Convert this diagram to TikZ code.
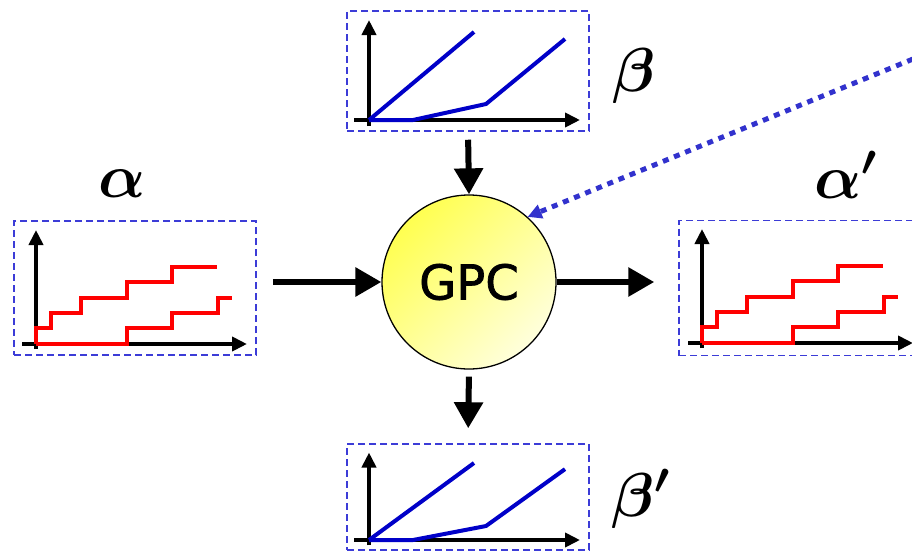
\RequirePackage{fix-cm}
\documentclass[tikz,border=0pt]{standalone}
\usepackage{fontspec}
\usepackage{tikz}
\usetikzlibrary{arrows.meta, positioning, calc}
\newfontfamily\gpcfont[FakeBold=1.5]{DejaVu Sans}
\definecolor{boxblue}{RGB}{60, 60, 215}
\definecolor{dotblue}{RGB}{50, 50, 205}
\definecolor{curveblue}{RGB}{0, 0, 200}
\definecolor{gpcyellow}{RGB}{255, 255, 80}
\definecolor{gpcpale}{RGB}{255, 255, 220}

\tikzset{
  plotbox/.style={draw=boxblue, line width=1.5pt, dash pattern=on 7pt off 4pt, inner sep=0pt},
  axisarrow/.style={line width=4pt, -{Triangle[length=15pt,width=14pt]}},
  redstairs/.style={red, line width=4pt},
  bluecurve/.style={curveblue, line width=4pt},
  flowarrow/.style={line width=6pt, -{Triangle[length=26pt,width=28pt]}},
  feedback/.style={dotblue, line width=5pt, dash pattern=on 6pt off 6pt, -{Triangle[length=14pt,width=14pt]}},
  lbl/.style={font=\fontsize{62}{62}\selectfont\boldmath, inner sep=0pt, anchor=base west},
}

\begin{document}
\begin{tikzpicture}[x=1pt, y=-1pt, >=Stealth]
  \useasboundingbox (0,0) rectangle (912,554);
  \clip (0,0) rectangle (912,554);

  % dashed frames
  \node[plotbox, minimum width=242pt, minimum height=134pt] (alphaBox) at (135,288) {};
  \node[plotbox, minimum width=242pt, minimum height=120pt] (betaBox) at (468,71) {};
  \node[plotbox, minimum width=242pt, minimum height=135pt] (alphaOutBox) at (800,288) {};
  \node[plotbox, minimum width=242pt, minimum height=106pt] (betaOutBox) at (468,497) {};

  % arrival curves alpha
  \begin{scope}[shift={(36,344)}]
    \draw[axisarrow] (0,5) -- (0,-114);
    \draw[axisarrow] (-14,0) -- (211,0);
    \draw[redstairs] (0,0) -- (0,-16) -- (15,-16) -- (15,-31) -- (45,-31) -- (45,-46)
      -- (91,-46) -- (91,-62) -- (136,-62) -- (136,-77) -- (181,-77);
    \draw[redstairs] (0,0) -- (91,0) -- (91,-16) -- (136,-16) -- (136,-31)
      -- (182,-31) -- (182,-46) -- (196,-46);
  \end{scope}

  % arrival curves alpha'
  \begin{scope}[shift={(702,343)}]
    \draw[axisarrow] (0,5) -- (0,-114);
    \draw[axisarrow] (-14,0) -- (211,0);
    \draw[redstairs] (0,0) -- (0,-16) -- (15,-16) -- (15,-31) -- (45,-31) -- (45,-46)
      -- (91,-46) -- (91,-62) -- (136,-62) -- (136,-77) -- (181,-77);
    \draw[redstairs] (0,0) -- (91,0) -- (91,-16) -- (136,-16) -- (136,-31)
      -- (182,-31) -- (182,-46) -- (196,-46);
  \end{scope}

  % service curves beta
  \begin{scope}[shift={(369,120)}]
    \draw[axisarrow] (0,6) -- (0,-100);
    \draw[axisarrow] (-15,0) -- (211,0);
    \draw[bluecurve] (0,0) -- (105,-88);
    \draw[bluecurve] (0,0) -- (44,0) -- (117,-16) -- (196,-81);
  \end{scope}

  % service curves beta'
  \begin{scope}[shift={(369,540)}, yscale=0.875]
    \draw[axisarrow] (0,6) -- (0,-100);
    \draw[axisarrow] (-15,0) -- (211,0);
    \draw[bluecurve] (0,0) -- (105,-88);
    \draw[bluecurve] (0,0) -- (44,0) -- (117,-16) -- (196,-81);
  \end{scope}

  % the component
  \node[circle, draw, line width=1.3pt, minimum size=174pt, inner sep=0pt,
        top color=gpcyellow, bottom color=gpcpale, shading angle=45,
        font=\gpcfont\fontsize{48}{48}\selectfont] (gpc) at (469,282) {GPC};

  % labels
  \node[lbl] (alphaLbl) at (98,197) {$\alpha$};
  \node[lbl] (betaLbl) at (612,91) {$\beta$};
  \node[lbl] (alphaOutLbl) at (814,198) {$\alpha'$};
  \node[lbl] (betaOutLbl) at (611,516) {$\beta'$};

  % flows
  \draw[flowarrow, shorten <=16pt] (alphaBox.east |- gpc.west) -- (gpc.west);
  \draw[flowarrow, shorten >=24pt] (gpc.east) -- (alphaOutBox.west |- gpc.east);
  \draw[flowarrow, shorten <=8pt] (betaBox.south) -- (gpc.north);
  \draw[flowarrow, shorten <=7pt, shorten >=15pt] (gpc.south) -- (betaOutBox.north);

  % incoming dotted link
  \coordinate (src) at (935,50);
  \draw[feedback] (src) -- (gpc.48);
\end{tikzpicture}
\end{document}
